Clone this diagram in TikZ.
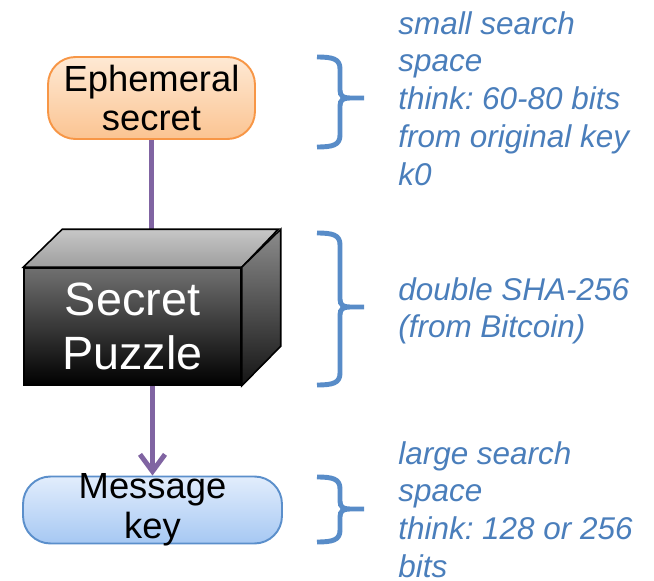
\documentclass[tikz,border=0pt]{standalone}
\usepackage{fontspec}
\setmainfont{Liberation Sans}
\frenchspacing
\definecolor{NoteBlue}{RGB}{74, 126, 187}
\definecolor{BraceBlue}{RGB}{88, 140, 200}
\definecolor{FlowPurple}{RGB}{128, 100, 162}
\definecolor{SecretOrange}{RGB}{247, 150, 70}
\definecolor{SecretTop}{RGB}{254, 233, 212}
\definecolor{SecretBottom}{RGB}{251, 196, 146}
\definecolor{KeyBlue}{RGB}{91, 143, 203}
\definecolor{KeyTop}{RGB}{226, 237, 252}
\definecolor{KeyBottom}{RGB}{166, 200, 243}
\usetikzlibrary{arrows.meta, positioning}

\begin{document}
\begin{tikzpicture}[x=0.02cm, y=-0.02cm,
    flow/.style={line width=2.8pt, FlowPurple},
    bracket/.style={line width=2.8pt, BraceBlue},
    note/.style={anchor=north west, inner sep=0pt, align=left, text=NoteBlue, font=\fontsize{17.9}{21.5}\selectfont\itshape}]
    \useasboundingbox (0,0) rectangle (654,581);
    \node[draw=SecretOrange, line width=1.1pt, rounded corners=0.55cm, top color=SecretTop, bottom color=SecretBottom, minimum width=4.14cm, minimum height=1.64cm, inner sep=0pt, align=center, font=\fontsize{20.7}{22.7}\selectfont] (eph) at (151.5,98) {Ephemeral\\secret};
    \node[draw=black, line width=0.9pt, top color=black!56, bottom color=black, minimum width=4.34cm, minimum height=2.34cm, inner sep=0pt, align=center, text=white, font=\fontsize{26.6}{31.2}\selectfont] (puzzle) at (132.5,326.5) {Secret\\Puzzle};
    \node[draw=KeyBlue, line width=1.1pt, rounded corners=0.55cm, top color=KeyTop, bottom color=KeyBottom, minimum width=5.18cm, minimum height=1.34cm, inner xsep=0pt, inner ysep=-2pt, align=center, font=\fontsize{20.7}{23}\selectfont] (key) at (152.5,510) {Message\\key};
    \draw[flow] (eph.south) -- (eph.south |- puzzle.north);
    \draw[flow, -{Straight Barb[length=0.34cm, width=0.5cm]}] (key.north |- puzzle.south) -- (key.north);
    % box faces
    \filldraw[draw=black, line width=0.9pt, top color=black!22, bottom color=black!38] (puzzle.north west) -- ++(39,-38) -- ++(216,0) -- (puzzle.north east) -- cycle;
    \filldraw[draw=black, line width=0.9pt, top color=black!45, bottom color=black!92] (puzzle.north east) -- ++(39,-38) -- ++(0,117) -- (puzzle.south east) -- cycle;
    % notes
    \node[note] (small) at (398,11) {small search\\space\\think: 60-80 bits\\from original key\\k0};
    \node[note] (hash) at (398,277) {double SHA-256\\(from Bitcoin)};
    \node[note] (large) at (398,441) {large search\\space\\think: 128 or 256\\bits};
    \foreach \ya/\ym/\yb in {57/98/147, 233/307/385, 477/509/542}
        \draw[bracket] (317,\ya) .. controls (333,\ya) and (340,\ya+2) .. (340,\ya+12) -- (340,\ym-8) .. controls (340,\ym-2) and (343,\ym) .. (350,\ym) -- (364,\ym)
            (350,\ym) .. controls (343,\ym) and (340,\ym+2) .. (340,\ym+8) -- (340,\yb-12) .. controls (340,\yb-2) and (333,\yb) .. (317,\yb);
\end{tikzpicture}
\end{document}
